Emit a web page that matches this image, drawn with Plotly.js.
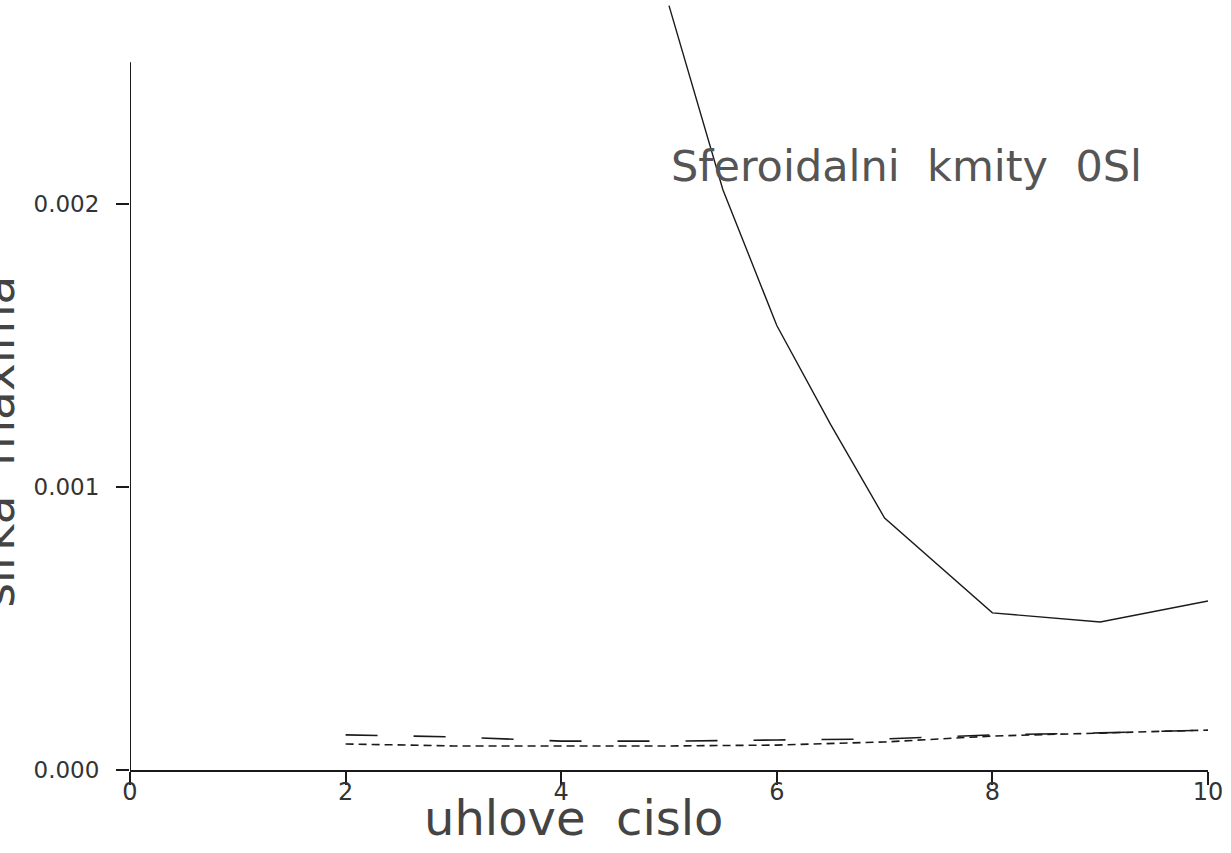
<!DOCTYPE html>
<html>
<head>
<meta charset="utf-8">
<script src="https://cdn.plot.ly/plotly-3.0.1.min.js"></script>
<style>
  html, body { margin: 0; padding: 0; background: #fff; }
  #chart { width: 1231px; height: 853px; }
</style>
</head>
<body>
<div id="chart"></div>
<script>
// ---- data ----
const mainX = [5, 5.5, 6, 6.5, 7, 8, 9, 10];
const mainY = [0.00270, 0.00205, 0.00157, 0.00122, 0.00089, 0.000555, 0.000523, 0.000597];

const lowX = [2, 3, 4, 5, 6, 7, 8, 9, 10];
const upperY = [0.000124, 0.000117, 0.000102, 0.000102, 0.000106, 0.000110, 0.000124, 0.000131, 0.000141];
const lowerY = [0.000092, 0.000085, 0.000085, 0.000085, 0.000088, 0.000099, 0.000120, 0.000131, 0.000141];

const xTickVals = [0, 2, 4, 6, 8, 10];
const xTickText = ["0", "2", "4", "6", "8", "10"];
const yTickVals = [0, 0.001, 0.002];
const yTickText = ["0.000", "0.001", "0.002"];

const xTitle = "uhlove  cislo";
const yTitle = "sirka  maxima";
const noteText = "Sferoidalni  kmity  0Sl";

const yAxisTop = 0.0025;

// ---- chart ----
const FONT = "DejaVu Sans";
const traces = [
  {
    x: mainX, y: mainY, type: "scatter", mode: "lines",
    line: { color: "#1a1a1a", width: 1.4 },
    hoverinfo: "skip", showlegend: false
  },
  {
    x: lowX, y: upperY, type: "scatter", mode: "lines",
    line: { color: "#1a1a1a", width: 1.6, dash: "32px,36px" },
    hoverinfo: "skip", showlegend: false
  },
  {
    x: lowX, y: lowerY, type: "scatter", mode: "lines",
    line: { color: "#1a1a1a", width: 1.6, dash: "8px,5px" },
    hoverinfo: "skip", showlegend: false
  }
];

const layout = {
  width: 1231, height: 853,
  margin: { l: 130, r: 23, t: 0, b: 83, pad: 0 },
  paper_bgcolor: "#ffffff",
  plot_bgcolor: "#ffffff",
  font: { family: FONT, color: "#333" },
  showlegend: false,
  xaxis: {
    range: [0, 10],
    showgrid: false, zeroline: false,
    showline: true, linecolor: "#1a1a1a", linewidth: 2,
    ticks: "outside", ticklen: 13, tickwidth: 2, tickcolor: "#1a1a1a",
    tickvals: xTickVals, ticktext: xTickText,
    tickfont: { family: FONT, size: 24, color: "#333" },
    ticklabelstandoff: -14
  },
  yaxis: {
    range: [0, 0.00272],
    showgrid: false, zeroline: false,
    showline: false,
    ticks: "outside", ticklen: 13, tickwidth: 2, tickcolor: "#1a1a1a",
    tickvals: yTickVals, ticktext: yTickText,
    tickfont: { family: FONT, size: 23, color: "#333" },
    ticklabelstandoff: 12
  },
  shapes: [
    { type: "line", xref: "x", yref: "y", x0: 0, x1: 0, y0: 0, y1: yAxisTop,
      line: { color: "#1a1a1a", width: 2 } }
  ],
  annotations: [
    { text: noteText, xref: "paper", yref: "paper", x: 0.720, y: 0.784,
      xanchor: "center", yanchor: "middle", showarrow: false,
      font: { family: FONT, size: 43, color: "#555" } },
    { text: xTitle, xref: "paper", yref: "paper", x: 0.411, y: -0.062,
      xanchor: "center", yanchor: "middle", showarrow: false,
      font: { family: FONT, size: 48, color: "#444" } },
    { text: yTitle, xref: "paper", yref: "paper", x: -0.123, y: 0.427,
      xanchor: "center", yanchor: "middle", showarrow: false, textangle: -90,
      font: { family: FONT, size: 47, color: "#444" } }
  ]
};

Plotly.newPlot("chart", traces, layout, { staticPlot: true, displayModeBar: false });
</script>
</body>
</html>
